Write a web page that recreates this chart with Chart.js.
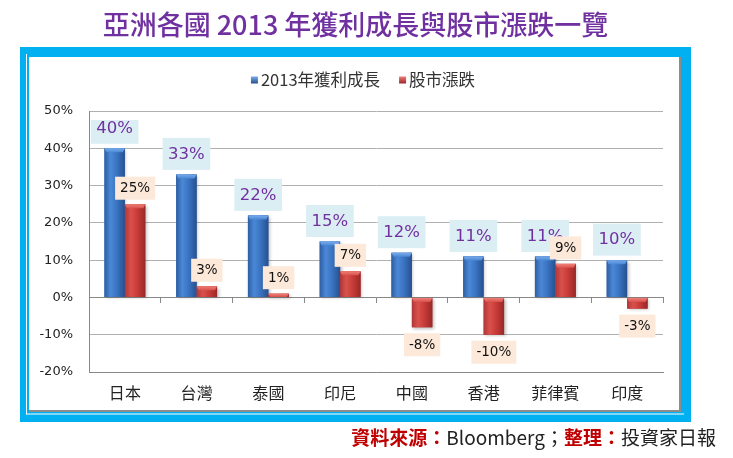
<!DOCTYPE html>
<html>
<head>
<meta charset="utf-8">
<script src="https://cdn.jsdelivr.net/npm/chart.js@4.4.0/dist/chart.umd.min.js"></script>
<style>
html,body{margin:0;padding:0;background:#fff;width:733px;height:458px;overflow:hidden;}
#wrap{position:relative;width:733px;height:458px;}
canvas{position:absolute;left:0;top:0;}
#title{position:absolute;left:0;width:711px;top:10px;text-align:center;font:500 27px/1 "Noto Sans CJK TC",sans-serif;color:#7030a0;white-space:nowrap;}
#footer{position:absolute;right:17px;top:427px;font:19px/1 "Noto Sans CJK TC",sans-serif;color:#222;white-space:nowrap;}
#footer .r{color:#c00000;font-weight:bold;}
</style>
</head>
<body>
<div id="wrap">
<canvas id="c" width="733" height="458"></canvas>
<div id="title">亞洲各國 2013 年獲利成長與股市漲跌一覽</div>
<div id="footer"><span class="r">資料來源：</span>Bloomberg；<span class="r">整理：</span>投資家日報</div>
</div>
<script>
// ---- data ----
const categories = ['日本', '台灣', '泰國', '印尼', '中國', '香港', '菲律賓', '印度'];
const seriesNames = ['2013年獲利成長', '股市漲跌'];
const earningsGrowth = [40, 33, 22, 15, 12, 11, 11, 10];
const stockChange = [25, 3, 1, 7, -8, -10, 9, -3];
const yMin = -20, yMax = 50, yStep = 10;

// ---- styles ----
const palettes = [
  {base: '#3a74c2', edge: '#2d5ea3', light: '#4b88d6', main: '#3a74c2', dark: '#27508f', cap: '#79aceb'},
  {base: '#c93c38', edge: '#b03636', light: '#d9514c', main: '#c93c38', dark: '#982828', cap: '#ef7f78'}
];
const labelStyles = [
  {font: '16.5px "DejaVu Sans"', color: '#7030a0', bg: '#dbeef4', h: 32, padX: 5.5, gapAbove: 4.5, gapBelow: 6},
  {font: '13.5px "DejaVu Sans"', color: '#111', bg: '#fde9d9', h: 23, padX: 5, gapAbove: 4.5, gapBelow: 6}
];

const framePlugin = {
  id: 'frame',
  beforeDraw(chart) {
    const c = chart.ctx;
    c.save();
    c.fillStyle = '#fff';
    c.fillRect(0, 0, chart.width, chart.height);
    c.fillStyle = '#00b0f0';
    c.fillRect(20, 47, 671, 375);
    c.fillStyle = '#fff';
    c.fillRect(29, 57, 652, 355);
    c.strokeStyle = '#8c8c8c';
    c.lineWidth = 2;
    c.beginPath();
    c.moveTo(680, 57); c.lineTo(680, 412);
    c.moveTo(29, 411); c.lineTo(681, 411);
    c.stroke();
    c.strokeStyle = '#fff';
    c.lineWidth = 1;
    c.beginPath();
    c.moveTo(26.5, 54); c.lineTo(26.5, 414.5);
    c.moveTo(26, 414); c.lineTo(684, 414);
    c.stroke();
    c.restore();
  }
};

const barStylePlugin = {
  id: 'barStyle',
  afterDatasetsDraw(chart) {
    const c = chart.ctx;
    chart.data.datasets.forEach((ds, di) => {
      const pal = palettes[di];
      chart.getDatasetMeta(di).data.forEach(bar => {
        const p = bar.getProps(['x', 'y', 'base', 'width'], true);
        const l = p.x - p.width / 2, r = p.x + p.width / 2;
        const t = Math.min(p.y, p.base), b = Math.max(p.y, p.base);
        const h = b - t;
        if (h <= 0) return;
        c.save();
        c.shadowColor = 'rgba(0,0,0,0.25)';
        c.shadowBlur = 3;
        c.shadowOffsetX = 1.5;
        c.shadowOffsetY = 1.5;
        const g = c.createLinearGradient(l, 0, r, 0);
        g.addColorStop(0, pal.edge);
        g.addColorStop(0.3, pal.light);
        g.addColorStop(0.6, pal.main);
        g.addColorStop(1, pal.dark);
        c.fillStyle = g;
        c.fillRect(l, t, p.width, h);
        c.shadowColor = 'transparent';
        const capH = Math.min(4, h);
        const g2 = c.createLinearGradient(0, t, 0, t + capH);
        g2.addColorStop(0, pal.cap);
        g2.addColorStop(1, pal.light);
        c.fillStyle = g2;
        c.beginPath();
        c.moveTo(l, t); c.lineTo(r, t);
        c.lineTo(r - 2, t + capH); c.lineTo(l + 2, t + capH);
        c.closePath();
        c.fill();
        c.restore();
      });
    });
  }
};

const labelPlugin = {
  id: 'valueLabels',
  afterDatasetsDraw(chart) {
    const c = chart.ctx, area = chart.chartArea;
    chart.data.datasets.forEach((ds, di) => {
      const st = labelStyles[di];
      c.save();
      c.font = st.font;
      c.textAlign = 'center';
      c.textBaseline = 'middle';
      chart.getDatasetMeta(di).data.forEach((bar, i) => {
        const v = ds.data[i];
        const txt = v + '%';
        const p = bar.getProps(['x', 'y', 'base'], true);
        const tw = c.measureText(txt).width;
        const w = tw + st.padX * 2;
        let top;
        if (v >= 0) top = p.y - st.gapAbove - st.h;
        else top = p.y + st.gapBelow;
        const cy = top + st.h / 2;
        const boxTop = Math.max(top, area.top + 9);
        c.fillStyle = st.bg;
        c.fillRect(p.x - w / 2, boxTop, w, top + st.h - boxTop);
        c.fillStyle = st.color;
        c.fillText(txt, p.x, cy + 0.5);
      });
      c.restore();
    });
  }
};

const legendPlugin = {
  id: 'customLegend',
  afterDraw(chart) {
    const c = chart.ctx;
    c.save();
    c.font = '16.5px "Noto Sans CJK TC", sans-serif';
    c.textBaseline = 'middle';
    c.textAlign = 'left';
    const box = 7, gap = 3, spacing = 19, cy = 80;
    const widths = chart.data.datasets.map(ds => box + gap + c.measureText(ds.label).width);
    const total = widths.reduce((a, b) => a + b, 0) + spacing * (widths.length - 1);
    let x = 363 - total / 2;
    chart.data.datasets.forEach((ds, di) => {
      const pal = palettes[di];
      const g = c.createLinearGradient(0, cy - box / 2, 0, cy + box / 2);
      g.addColorStop(0, pal.cap);
      g.addColorStop(1, pal.dark);
      c.fillStyle = g;
      c.fillRect(x, cy - box / 2, box, box);
      c.fillStyle = '#333';
      c.fillText(ds.label, x + box + gap, cy);
      x += widths[di] + spacing;
    });
    c.restore();
  }
};

Chart.defaults.font.family = '"Noto Sans CJK TC", sans-serif';

new Chart(document.getElementById('c'), {
  type: 'bar',
  data: {
    labels: categories,
    datasets: [
      {label: seriesNames[0], data: earningsGrowth, backgroundColor: palettes[0].base, categoryPercentage: 0.57, barPercentage: 1},
      {label: seriesNames[1], data: stockChange, backgroundColor: palettes[1].base, categoryPercentage: 0.57, barPercentage: 1}
    ]
  },
  options: {
    responsive: false,
    animation: false,
    layout: {padding: {top: 111, left: 29, right: 70, bottom: 46}},
    plugins: {legend: {display: false}, tooltip: {enabled: false}},
    scales: {
      x: {
        grid: {display: false, drawTicks: false},
        border: {color: '#888', width: 1},
        ticks: {font: {size: 16}, color: '#222', padding: 11},
        afterFit: s => { s.height = 40; }
      },
      x2: {
        type: 'category',
        position: {y: 0},
        offset: true,
        grid: {offset: true, drawOnChartArea: false, drawTicks: true, tickLength: 5, color: '#888'},
        border: {color: '#888', width: 1},
        ticks: {display: false}
      },
      y: {
        min: yMin, max: yMax,
        ticks: {stepSize: yStep, callback: v => v + '%', font: {family: 'DejaVu Sans', size: 13}, color: '#222', padding: 16},
        grid: {color: '#b0b0b0', drawTicks: false},
        border: {color: '#888', width: 1},
        afterFit: s => { s.width = 60; }
      }
    }
  },
  plugins: [framePlugin, barStylePlugin, labelPlugin, legendPlugin]
});
</script>
</body>
</html>
